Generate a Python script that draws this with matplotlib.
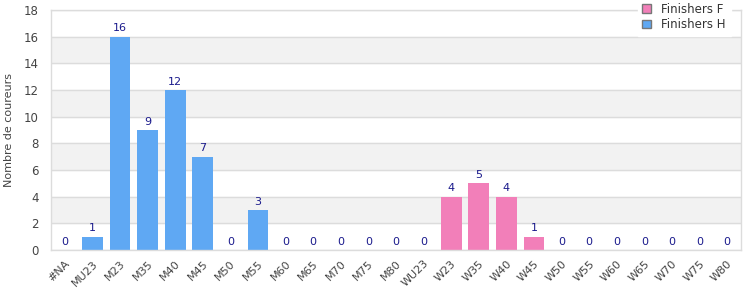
import numpy as np
import matplotlib.pyplot as plt
from matplotlib.patches import Patch

# categories (age groups) and finisher counts per series
cats_h = ['#NA', 'MU23', 'M23', 'M35', 'M40', 'M45', 'M50', 'M55', 'M60',
          'M65', 'M70', 'M75', 'M80']
cats_f = ['WU23', 'W23', 'W35', 'W40', 'W45', 'W50', 'W55', 'W60', 'W65',
          'W70', 'W75', 'W80']
finishers_h = [0, 1, 16, 9, 12, 7, 0, 3, 0, 0, 0, 0, 0]
finishers_f = [0, 4, 5, 4, 1, 0, 0, 0, 0, 0, 0, 0]

color_h = '#5fa8f3'
color_f = '#f27fb9'
grid_c = '#dcdcdc'

categories = cats_h + cats_f
x_h = np.arange(len(cats_h))
x_f = np.arange(len(cats_h), len(categories))

fig = plt.figure(figsize=(7.5, 3), dpi=100)
ax = fig.add_axes([0.068, 0.1667, 0.92, 0.80])

# alternating bands
for lo in range(2, 18, 4):
    ax.axhspan(lo, lo + 2, color='#f2f2f2', zorder=0)

ax.bar(x_h, finishers_h, width=0.75, color=color_h, zorder=2)
ax.bar(x_f, finishers_f, width=0.75, color=color_f, zorder=2)

for xs, vals in ((x_h, finishers_h), (x_f, finishers_f)):
    for xi, v in zip(xs, vals):
        ax.text(xi, v + 0.25, str(v), ha='center', va='bottom',
                fontsize=8, color='#1a1a8c', zorder=3)

ax.set_xlim(-0.5, len(categories) - 0.5)
ax.set_ylim(0, 18)
ax.set_yticks(range(0, 19, 2))
ax.yaxis.grid(True, color=grid_c, linewidth=1, zorder=1)
ax.set_axisbelow(True)

ax.set_xticks(np.arange(len(categories)))
ax.set_xticklabels(categories, rotation=45, ha='right', rotation_mode='anchor',
                   fontsize=8, color='#444444')
ax.tick_params(axis='y', labelsize=8.5, colors='#444444', length=0, pad=9)
ax.tick_params(axis='x', length=0, pad=6)

for s in ax.spines.values():
    s.set_color(grid_c)
    s.set_linewidth(1)

ax.set_ylabel('Nombre de coureurs', fontsize=8, color='#444444', labelpad=7)

handles = [Patch(facecolor=color_f, edgecolor='#777777', label='Finishers F'),
           Patch(facecolor=color_h, edgecolor='#777777', label='Finishers H')]
leg = ax.legend(handles=handles, loc='upper right', bbox_to_anchor=(0.99, 1.065),
                fontsize=8.5, frameon=True, handlelength=0.7, handleheight=0.7,
                borderpad=0.2, labelspacing=0.2, handletextpad=0.9)
leg.get_frame().set_edgecolor('white')
leg.get_frame().set_facecolor('white')
leg.get_frame().set_alpha(1)
leg.get_frame().set_boxstyle('square', pad=0.2)
for t in leg.get_texts():
    t.set_color('#333333')
leg.set_zorder(5)

fig.savefig('out.png', dpi=100)
